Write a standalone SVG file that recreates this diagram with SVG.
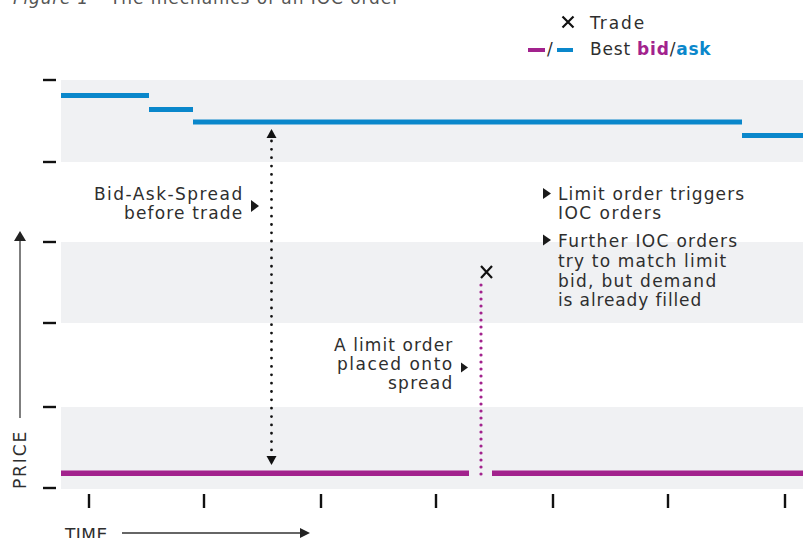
<svg xmlns="http://www.w3.org/2000/svg" width="803" height="538" viewBox="0 0 803 538">
<style>
text{font-family:"DejaVu Sans","Liberation Sans",sans-serif;font-size:17px;fill:#2e2e2e;letter-spacing:0.8px}
.band{fill:#f0f1f3}
.tick{stroke:#111;stroke-width:2.4}
.ask{fill:#0a87cb}
.bid{fill:#a2228d}
.ptr{fill:#1a1a1a}
.r{text-anchor:end}
</style>
<rect width="803" height="538" fill="#fff"/>
<g id="title">
<text x="13" y="4" style="fill:#555;font-style:italic">Figure 1</text>
<text x="110" y="4" style="fill:#555" textLength="290">The mechanics of an IOC order</text>
</g>
<g id="bands">
<rect class="band" x="61" y="80" width="742" height="82"/>
<rect class="band" x="61" y="242" width="742" height="81"/>
<rect class="band" x="61" y="407" width="742" height="82"/>
</g>
<g id="y-ticks">
<line class="tick" x1="43" y1="80" x2="56" y2="80"/>
<line class="tick" x1="43" y1="162" x2="56" y2="162"/>
<line class="tick" x1="43" y1="242" x2="56" y2="242"/>
<line class="tick" x1="43" y1="323" x2="56" y2="323"/>
<line class="tick" x1="43" y1="407" x2="56" y2="407"/>
<line class="tick" x1="43" y1="488" x2="56" y2="488"/>
</g>
<g id="x-ticks">
<line class="tick" x1="89" y1="494" x2="89" y2="508"/>
<line class="tick" x1="204" y1="494" x2="204" y2="508"/>
<line class="tick" x1="321" y1="494" x2="321" y2="508"/>
<line class="tick" x1="436" y1="494" x2="436" y2="508"/>
<line class="tick" x1="553" y1="494" x2="553" y2="508"/>
<line class="tick" x1="668" y1="494" x2="668" y2="508"/>
<line class="tick" x1="785" y1="494" x2="785" y2="508"/>
</g>
<g id="best-ask">
<rect class="ask" x="61" y="93" width="88" height="5"/>
<rect class="ask" x="149" y="107" width="44" height="5"/>
<rect class="ask" x="193" y="119.5" width="549" height="5"/>
<rect class="ask" x="742" y="133" width="61" height="5"/>
</g>
<g id="best-bid">
<rect class="bid" x="61" y="470.5" width="408" height="5.5"/>
<rect class="bid" x="492" y="470.5" width="311" height="5.5"/>
</g>
<g id="connectors">
<line x1="271.5" y1="141" x2="271.5" y2="454" stroke="#111" stroke-width="2.8" stroke-linecap="round" stroke-dasharray="0 8.35"/>
<path d="M271.5 129 L276.5 138 L266.5 138 Z" fill="#111"/>
<path d="M271.5 465 L276.5 456 L266.5 456 Z" fill="#111"/>
<line x1="481" y1="474" x2="481" y2="278" stroke="#a2228d" stroke-width="3.2" stroke-linecap="round" stroke-dasharray="0 7"/>
</g>
<g id="trade">
<path d="M481 266 L492 278 M492 266 L481 278" stroke="#111" stroke-width="2.2" fill="none"/>
</g>
<g id="legend">
<path d="M562.5 16.5 L573.5 27.5 M573.5 16.5 L562.5 27.5" stroke="#111" stroke-width="2.2" fill="none"/>
<text x="590" y="29" textLength="55">Trade</text>
<rect x="528" y="48" width="17" height="4" fill="#a2228d"/>
<text x="547" y="55" style="letter-spacing:0">/</text>
<rect x="557" y="48" width="16" height="4" fill="#0a87cb"/>
<text x="590" y="55">Best <tspan font-weight="bold" style="fill:#a2228d">bid</tspan>/<tspan font-weight="bold" style="fill:#0a87cb">ask</tspan></text>
</g>
<g id="note-spread">
<text class="r" x="243" y="200" textLength="149">Bid-Ask-Spread</text>
<text class="r" x="243" y="219" textLength="119">before trade</text>
<path class="ptr" d="M251 200 L259 206 L251 212 Z"/>
</g>
<g id="note-limit">
<text class="r" x="453" y="351" textLength="119">A limit order</text>
<text class="r" x="453" y="370" textLength="116">placed onto</text>
<text class="r" x="453" y="389" textLength="65">spread</text>
<path class="ptr" d="M461 362.5 L468 367.5 L461 372.5 Z"/>
</g>
<g id="note-ioc">
<path class="ptr" d="M543 188 L551 193.5 L543 199 Z"/>
<text x="558" y="200" textLength="187">Limit order triggers</text>
<text x="558" y="219" textLength="104">IOC orders</text>
<path class="ptr" d="M543 234.5 L551 240 L543 245.5 Z"/>
<text x="558" y="247" textLength="180">Further IOC orders</text>
<text x="558" y="267" textLength="169">try to match limit</text>
<text x="558" y="287" textLength="159">bid, but demand</text>
<text x="558" y="306" textLength="144">is already filled</text>
</g>
<g id="axis-price">
<text transform="translate(26 489) rotate(-90)" textLength="58">PRICE</text>
<line x1="20" y1="418" x2="20" y2="239" stroke="#555" stroke-width="1.5"/>
<path d="M20 231 L26 241 L14 241 Z" fill="#222"/>
</g>
<g id="axis-time">
<text x="65" y="541" textLength="43">TIME</text>
<line x1="122" y1="533" x2="301" y2="533" stroke="#333" stroke-width="1.3"/>
<path d="M310 533 L300 528 L300 538 Z" fill="#222"/>
</g>
</svg>
